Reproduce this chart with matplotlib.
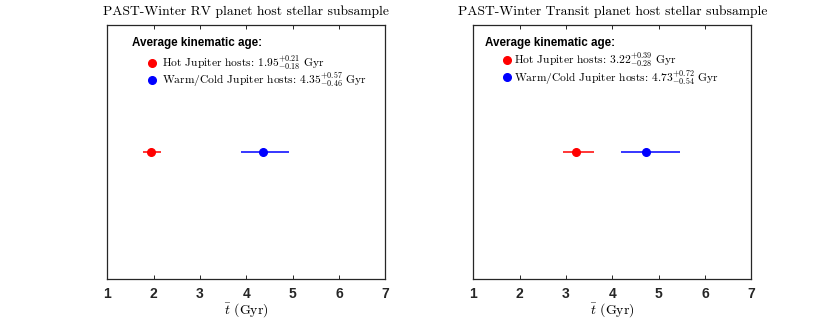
import matplotlib
matplotlib.use('Agg')
import matplotlib.pyplot as plt

plt.rcParams['mathtext.fontset'] = 'cm'
plt.rcParams['axes.unicode_minus'] = False

# data: mean kinematic age with asymmetric errors (Gyr)
titles = ['PAST-Winter RV planet host stellar subsample',
          'PAST-Winter Transit planet host stellar subsample']
labels = ['Hot Jupiter hosts', 'Warm/Cold Jupiter hosts']
colors = ['red', 'blue']
ages = [[1.95, 4.35], [3.22, 4.73]]
err_lo = [[0.18, 0.46], [0.28, 0.54]]
err_hi = [[0.21, 0.57], [0.39, 0.72]]
xticks = [1, 2, 3, 4, 5, 6, 7]

fig = plt.figure(figsize=(8.3, 3.19), dpi=100)
axes = [fig.add_axes([0.1293, 0.1254, 0.3349, 0.7962]),
        fig.add_axes([0.5703, 0.1254, 0.3349, 0.7962])]

# legend placement (axes fraction) per panel
leg_x = [0.088, 0.042]
mark_x = [0.160, 0.120]
text_x = [0.196, 0.1475]
row_y = [[0.852, 0.783], [0.864, 0.795]]

for k, ax in enumerate(axes):
    for i in range(2):
        ax.errorbar([ages[k][i]], [1], xerr=[[err_lo[k][i]], [err_hi[k][i]]],
                    fmt='o', color=colors[i], ms=5.5, elinewidth=1.1, capsize=0)
    ax.set_xlim(1, 7)
    ax.set_ylim(0, 2)
    ax.set_yticks([])
    ax.set_xticks(xticks)
    ax.set_xticklabels([str(t) for t in xticks], fontfamily='Liberation Sans',
                       fontweight='bold', fontsize=10)
    ax.tick_params(axis='x', direction='in', length=3, width=0.7,
                   top=True, pad=6, colors='#262626', labelcolor='#262626')
    for s in ax.spines.values():
        s.set_linewidth(0.9)
        s.set_color('#262626')
    ax.set_title(titles[k], fontfamily='cmr10', fontsize=9.8, pad=7)
    ax.set_xlabel(r'$\bar{t}$ (Gyr)', fontfamily='cmr10', fontsize=10, labelpad=0)

    # legend block
    ax.text(leg_x[k], 0.93, 'Average kinematic age:', transform=ax.transAxes,
            fontfamily='Liberation Sans', fontweight='bold', fontsize=8.4,
            va='center', ha='left')
    for i in range(2):
        ax.plot([mark_x[k]], [row_y[k][i]], 'o', color=colors[i], ms=5.5,
                transform=ax.transAxes, clip_on=False)
        txt = (labels[i] + ': $%.2f^{+%.2f}_{-%.2f}$ Gyr'
               % (ages[k][i], err_hi[k][i], err_lo[k][i]))
        ax.text(text_x[k], row_y[k][i], txt, transform=ax.transAxes,
                fontfamily='cmr10', fontsize=8.3, va='center', ha='left')

fig.savefig('out.png', dpi=100)
